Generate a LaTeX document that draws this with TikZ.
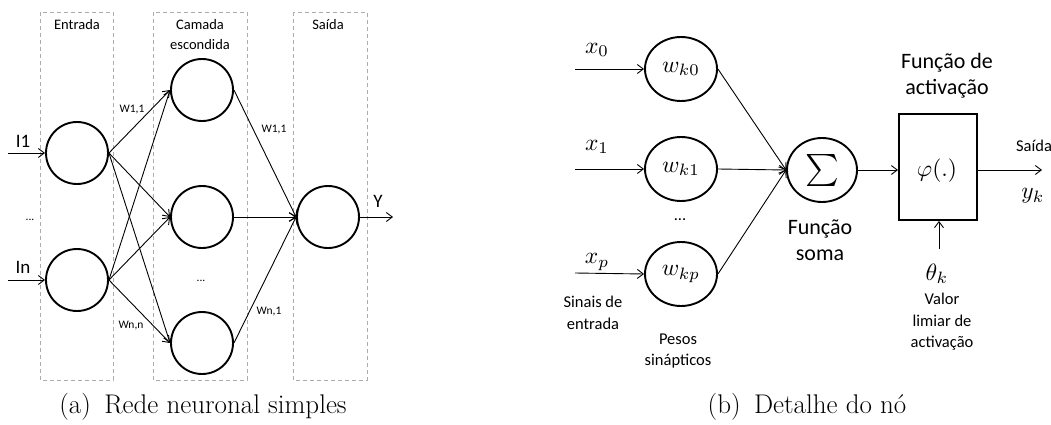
\documentclass[tikz,border=0pt]{standalone}
\usepackage{graphicx}
\usepackage{fontspec}
\newfontfamily\carl{Carlito}
\newcommand{\mymath}[1]{\scalebox{2.35}{$#1$}}
\usetikzlibrary{arrows.meta,shapes.geometric}
\tikzset{
  neuron/.style={circle, draw, line width=1.9pt, minimum size=62pt, inner sep=0pt},
  wnode/.style={ellipse, draw, line width=1.9pt, minimum width=72pt, minimum height=64pt, inner sep=0pt},
  conn/.style={line width=0.9pt, -{Straight Barb[length=6pt,width=9pt]}},
  layer/.style={draw=gray!65, dash pattern=on 4pt off 3pt, line width=0.9pt},
  ttl/.style={font=\carl\fontsize{14.5}{20}\selectfont, align=center},
  wlab/.style={font=\carl\fontsize{11.5}{13}\selectfont},
  big/.style={font=\carl\fontsize{19}{22}\selectfont},
  lbl/.style={font=\carl\fontsize{22}{26}\selectfont, align=center},
  sml/.style={font=\carl\fontsize{16.5}{21.5}\selectfont, align=center},
  captxt/.style={font=\fontsize{27}{31}\selectfont}
}
\begin{document}
\begin{tikzpicture}[x=1pt,y=-1pt]
\useasboundingbox (0,0) rectangle (1051,425);
% ---------- (a) ----------
\draw[layer] (40,12) rectangle (113,380);
\draw[layer] (153,12) rectangle (247,380);
\draw[layer] (293,12) rectangle (367,380);
\node[ttl] (tE) at (77,25) {Entrada};
\node[ttl, anchor=base] (tC) at (200,50) {Camada\\escondida};
\node[ttl] (tS) at (328,25) {Saída};

\node[neuron] (i1) at (77,153) {};
\node[neuron] (in) at (77,280) {};
\node[neuron] (h1) at (202,90) {};
\node[neuron] (h2) at (202,217) {};
\node[neuron] (hn) at (202,343) {};
\node[neuron] (o) at (328,217) {};

\coordinate (ai1) at (8,153);
\coordinate (ain) at (8,280);
\coordinate (ay) at (393,217);
\draw[conn] (ai1) -- (i1.west);
\draw[conn] (ain) -- (in.west);
\draw[conn] (o.east) -- (ay);
\node[big] (lI1) at (23,141) {I1};
\node[big] (lIn) at (23,267) {In};
\node[big] (lY) at (378,201) {Y};
\node[wlab] (d1) at (30,220) {...};
\node[wlab] (d2) at (201,281) {...};

\foreach \a in {i1,in}{
  \foreach \b in {h1,h2,hn}{
    \draw[conn] (\a.east) -- (\b.west);
  }
}
\foreach \b in {h1,h2,hn}{
  \draw[conn] (\b.east) -- (o.west);
}
\node[wlab] (w11a) at (132,110) {W1,1};
\node[wlab] (w11b) at (274,130) {W1,1};
\node[wlab] (wnn) at (131,326) {Wn,n};
\node[wlab] (wn1) at (269,312) {Wn,1};

\node[captxt] (capa) at (203,407) {(a)\enspace Rede neuronal simples};

% ---------- (b) ----------
\node[wnode] (w0) at (681,69) {\mymath{w_{k0}}};
\node[wnode] (w1) at (681,169) {\mymath{w_{k1}}};
\node[wnode] (wp) at (681,274) {\mymath{w_{kp}}};
\node[wnode, minimum width=70pt, minimum height=64pt] (sum) at (822,170) {\scalebox{3.2}{$\sum$}};
\node[draw, line width=1.9pt, minimum width=78pt, minimum height=106pt, inner sep=0pt] (act) at (938,167) {};
\node (phi) at (937,171) {\mymath{\varphi(.)}};

\coordinate (ax0) at (575,69);
\coordinate (ax1) at (575,169);
\coordinate (axp) at (575,273);
\coordinate (aout) at (1042,170);
\coordinate (ath) at (939,249);
\draw[conn] (ax0) -- (w0.west);
\draw[conn] (ax1) -- (w1.west);
\draw[conn] (axp) -- (wp.west);
\draw[conn] (w0.east) -- (sum.west);
\draw[conn] (w1.east) -- (sum.west);
\draw[conn] (wp.east) -- (sum.west);
\draw[conn] (sum.east) -- (act.west |- sum.east);
\draw[conn] (act.east |- sum.east) -- (aout);
\draw[conn] (ath) -- (act.south -| ath);

\node (lx0) at (597,50) {\mymath{x_0}};
\node (lx1) at (597,147) {\mymath{x_1}};
\node (lxp) at (597,262) {\mymath{x_p}};
\node[sml] (dots) at (680,220) {...};
\node[sml] (sinais) at (593,313) {Sinais de\\entrada};
\node[sml] (pesos) at (678,351) {Pesos\\sinápticos};
\node[lbl] (fsoma) at (820,240) {Função\\soma};
\node[lbl] (fact) at (947,76) {Função de\\activação};
\node[sml] (saida) at (1034,146) {Saída};
\node (yk) at (1033,196) {\mymath{y_k}};
\node (thk) at (937,274) {\mymath{\theta_k}};
\node[sml] (valor) at (942,322) {Valor\\limiar de\\activação};

\node[captxt] (capb) at (807,407) {(b)\enspace Detalhe do nó};
\end{tikzpicture}
\end{document}
